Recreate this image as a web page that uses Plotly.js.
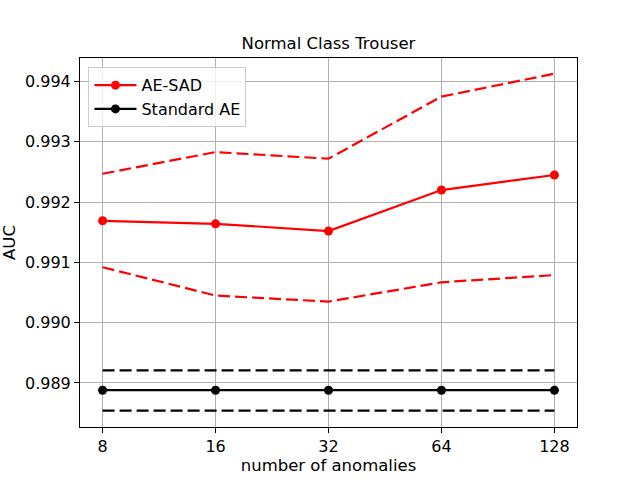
<!DOCTYPE html>
<html>
<head>
<meta charset="utf-8">
<script src="https://cdn.plot.ly/plotly-3.0.1.min.js"></script>
<style>
  html, body { margin: 0; padding: 0; background: #fff; }
  #chart { width: 640px; height: 480px; }
</style>
</head>
<body>
<div id="chart"></div>
<script>
// number of anomalies (x)
const anomalies = [8, 16, 32, 64, 128];

// AE-SAD: mean and +/- band
const aesadMean  = [0.99169, 0.99164, 0.99152, 0.99220, 0.99245];
const aesadUpper = [0.99247, 0.99283, 0.99272, 0.99375, 0.99413];
const aesadLower = [0.99092, 0.99045, 0.99035, 0.99067, 0.99079];

// Standard AE: constant over x
const stdMean  = [0.98888, 0.98888, 0.98888, 0.98888, 0.98888];
const stdUpper = [0.98921, 0.98921, 0.98921, 0.98921, 0.98921];
const stdLower = [0.98854, 0.98854, 0.98854, 0.98854, 0.98854];

const yTicks = [0.989, 0.990, 0.991, 0.992, 0.993, 0.994];

const RED = '#ff0000';
const BLACK = '#000000';
const DASH = '12px,5px';

const data = [
  { x: anomalies, y: aesadUpper, mode: 'lines', showlegend: false, hoverinfo: 'skip',
    line: { color: RED, width: 2.2, dash: DASH } },
  { x: anomalies, y: aesadLower, mode: 'lines', showlegend: false, hoverinfo: 'skip',
    line: { color: RED, width: 2.2, dash: DASH } },
  { x: anomalies, y: stdUpper, mode: 'lines', showlegend: false, hoverinfo: 'skip',
    line: { color: BLACK, width: 2.2, dash: DASH } },
  { x: anomalies, y: stdLower, mode: 'lines', showlegend: false, hoverinfo: 'skip',
    line: { color: BLACK, width: 2.2, dash: DASH } },
  { x: anomalies, y: aesadMean, name: 'AE-SAD', mode: 'lines+markers',
    line: { color: RED, width: 2.2 }, marker: { color: RED, size: 9 } },
  { x: anomalies, y: stdMean, name: 'Standard AE', mode: 'lines+markers',
    line: { color: BLACK, width: 2.2 }, marker: { color: BLACK, size: 9 } }
];

const axisCommon = {
  showline: true, mirror: true, linecolor: '#000', linewidth: 1,
  ticks: 'outside', ticklen: 5, tickwidth: 1, tickcolor: '#000',
  showgrid: true, gridcolor: '#b0b0b0', gridwidth: 1, zeroline: false,
  tickfont: { size: 16, color: '#000' }
};

const layout = {
  width: 640, height: 480,
  margin: { l: 80, r: 63, t: 58, b: 53 },
  paper_bgcolor: '#fff', plot_bgcolor: '#fff',
  font: { family: 'DejaVu Sans, sans-serif', color: '#000' },
  title: { text: 'Normal Class Trouser', font: { size: 16.5 }, xref: 'paper', x: 0.5, xanchor: 'center', y: 0.91, yanchor: 'middle' },
  xaxis: Object.assign({}, axisCommon, {
    type: 'log',
    range: [Math.log10(8) - 0.2 * Math.log10(2), Math.log10(128) + 0.2 * Math.log10(2)],
    tickvals: anomalies, ticktext: anomalies.map(String),
    title: { text: 'number of anomalies', font: { size: 16.5 }, standoff: 4 }
  }),
  yaxis: Object.assign({}, axisCommon, {
    range: [0.98827, 0.99439],
    tickvals: yTicks, ticktext: yTicks.map(v => v.toFixed(3)),
    title: { text: 'AUC', font: { size: 16.5 }, standoff: 8 }
  }),
  legend: {
    x: 0.017, y: 0.975, xanchor: 'left', yanchor: 'top',
    bgcolor: 'rgba(255,255,255,0.8)', bordercolor: '#cccccc', borderwidth: 1,
    font: { size: 16 }, tracegroupgap: 2, itemwidth: 42
  },
  showlegend: true
};

Plotly.newPlot('chart', data, layout, { displayModeBar: false, staticPlot: true });
</script>
</body>
</html>
